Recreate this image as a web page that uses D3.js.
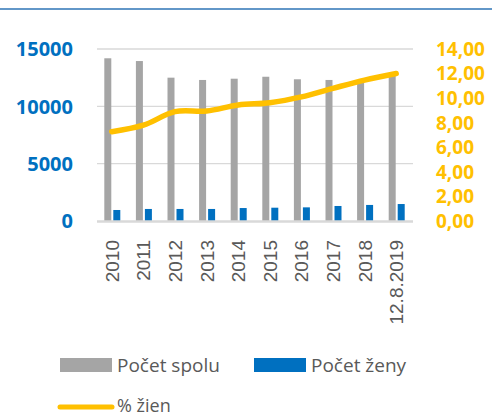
<!DOCTYPE html>
<html>
<head>
<meta charset="utf-8">
<script src="https://cdn.jsdelivr.net/npm/d3@7"></script>
<style>
  body { margin: 0; background: #fff; }
  svg { display: block; }
</style>
</head>
<body>
<div id="chart"></div>
<script>
// hodnoty odčítané z obrázka
var years = ["2010", "2011", "2012", "2013", "2014", "2015", "2016", "2017", "2018", "12.8.2019"];
var pocetSpolu = [14190, 13950, 12500, 12300, 12410, 12580, 12360, 12300, 12200, 12700];
var pocetZeny = [960, 1050, 1050, 1050, 1130, 1160, 1190, 1310, 1400, 1480];
var percentZien = [7.27, 7.8, 8.9, 8.95, 9.44, 9.63, 10.1, 10.8, 11.47, 12.0];
var leftTicks = [0, 5000, 10000, 15000];
var rightTicks = [0, 2, 4, 6, 8, 10, 12, 14];

var W = 492, H = 416;
var plot = { left: 97, right: 413, top: 49, bottom: 221 };

var svg = d3.select("#chart")
            .append("svg")
            .attr("width", W)
            .attr("height", H);

// horná modrá linka
svg.append("line")
   .attr("x1", 0).attr("x2", W)
   .attr("y1", 9).attr("y2", 9)
   .attr("stroke", "#2E75B6")
   .attr("stroke-width", 1.6);

var x = d3.scaleBand()
          .domain(years)
          .range([plot.left, plot.right]);

var yLeft = d3.scaleLinear()
              .domain([0, 15000])
              .range([plot.bottom, plot.top]);

var yRight = d3.scaleLinear()
               .domain([0, 14])
               .range([plot.bottom, plot.top]);

// mriežka
svg.selectAll(".grid")
   .data(leftTicks.filter(function(d) { return d > 0; }))
   .enter()
   .append("line")
   .attr("class", "grid")
   .attr("x1", plot.left).attr("x2", plot.right)
   .attr("y1", function(d) { return yLeft(d); })
   .attr("y2", function(d) { return yLeft(d); })
   .attr("stroke", "#D9D9D9")
   .attr("stroke-width", 1.3);

// stĺpce
var barW = 7, gap = 2;
svg.selectAll(".spolu")
   .data(pocetSpolu)
   .enter()
   .append("rect")
   .attr("x", function(d, i) { return x(years[i]) + x.bandwidth() / 2 - barW - gap / 2 - 0.5; })
   .attr("y", function(d) { return yLeft(d); })
   .attr("width", barW)
   .attr("height", function(d) { return plot.bottom - yLeft(d); })
   .attr("fill", "#A5A5A5");

svg.selectAll(".zeny")
   .data(pocetZeny)
   .enter()
   .append("rect")
   .attr("x", function(d, i) { return x(years[i]) + x.bandwidth() / 2 + gap / 2 - 0.5; })
   .attr("y", function(d) { return yLeft(d); })
   .attr("width", barW)
   .attr("height", function(d) { return plot.bottom - yLeft(d); })
   .attr("fill", "#0070C0");

// os x
svg.append("line")
   .attr("x1", plot.left).attr("x2", plot.right)
   .attr("y1", plot.bottom + 0.5).attr("y2", plot.bottom + 0.5)
   .attr("stroke", "#D9D9D9")
   .attr("stroke-width", 2.5);

// čiara % žien
var line = d3.line()
             .x(function(d, i) { return x(years[i]) + x.bandwidth() / 2 - 1; })
             .y(function(d) { return yRight(d); })
             .curve(d3.curveCatmullRom.alpha(0.5));

svg.append("path")
   .datum(percentZien)
   .attr("d", line)
   .attr("fill", "none")
   .attr("stroke", "#FFC000")
   .attr("stroke-width", 5.5)
   .attr("stroke-linecap", "round")
   .attr("stroke-linejoin", "round");

// ľavá os
svg.selectAll(".lt")
   .data(leftTicks)
   .enter()
   .append("text")
   .attr("x", 73)
   .attr("y", function(d) { return yLeft(d); })
   .attr("dy", "0.36em")
   .attr("text-anchor", "end")
   .style("font-family", "'Open Sans', sans-serif")
   .style("font-weight", "bold")
   .style("font-size", "20px")
   .style("fill", "#0070C0")
   .text(function(d) { return d; });

// pravá os
svg.selectAll(".rt")
   .data(rightTicks)
   .enter()
   .append("text")
   .attr("x", 436)
   .attr("y", function(d) { return yRight(d); })
   .attr("dy", "0.36em")
   .style("font-family", "'Open Sans', sans-serif")
   .style("font-weight", "bold")
   .style("font-size", "19px")
   .style("fill", "#FFC000")
   .text(function(d) { return d.toFixed(2).replace(".", ","); });

// popisy osi x
svg.selectAll(".xl")
   .data(years)
   .enter()
   .append("text")
   .attr("transform", function(d) {
       return "translate(" + (x(d) + x.bandwidth() / 2 + 6) + "," + 240 + ") rotate(-90)";
   })
   .attr("text-anchor", "end")
   .style("font-family", "'Liberation Sans', Arial, sans-serif")
   .style("font-size", "19px")
   .style("fill", "#595959")
   .text(function(d) { return d; });

// legenda
var legText = { "font-family": "'Open Sans', sans-serif", "font-size": "19px", "fill": "#595959" };

svg.append("rect").attr("x", 60).attr("y", 358).attr("width", 52).attr("height", 14).attr("fill", "#A5A5A5");
svg.append("text").attr("x", 117).attr("y", 372)
   .style("font-family", legText["font-family"]).style("font-size", legText["font-size"]).style("fill", legText.fill)
   .text("Počet spolu");

svg.append("rect").attr("x", 254).attr("y", 358).attr("width", 52).attr("height", 14).attr("fill", "#0070C0");
svg.append("text").attr("x", 311).attr("y", 372)
   .style("font-family", legText["font-family"]).style("font-size", legText["font-size"]).style("fill", legText.fill)
   .text("Počet ženy");

svg.append("line").attr("x1", 60).attr("x2", 112).attr("y1", 407).attr("y2", 407)
   .attr("stroke", "#FFC000").attr("stroke-width", 5).attr("stroke-linecap", "round");
svg.append("text").attr("x", 117).attr("y", 412)
   .style("font-family", legText["font-family"]).style("font-size", "18px").style("fill", legText.fill)
   .text("% žien");
</script>
</body>
</html>
